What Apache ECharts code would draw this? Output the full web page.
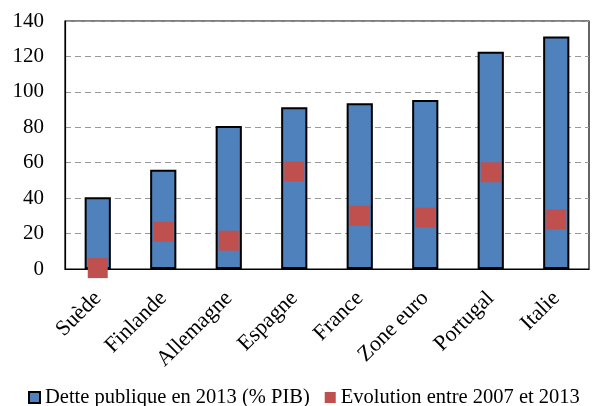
<!DOCTYPE html>
<html>
<head>
<meta charset="utf-8">
<script src="https://cdn.jsdelivr.net/npm/echarts@6/dist/echarts.min.js"></script>
<style>
  html, body { margin: 0; padding: 0; background: #fff; }
  #chart { width: 596px; height: 406px; }
</style>
</head>
<body>
<div id="chart"></div>
<script>
const countries = ['Suède', 'Finlande', 'Allemagne', 'Espagne', 'France', 'Zone euro', 'Portugal', 'Italie'];
const debt2013 = [40.5, 56, 80.7, 91.3, 93.6, 95.4, 122.7, 131.2];
const change0713 = [0.5, 21, 16, 55, 30, 29, 54.6, 28];

const font = 'Liberation Serif';
const chart = echarts.init(document.getElementById('chart'));

chart.setOption({
  animation: false,
  grid: {
    left: 65, right: 7, top: 21, bottom: 137,
    show: true, borderColor: '#000', borderWidth: 1.2
  },
  legend: {
    top: 387, left: 28, width: 570, padding: 0,
    itemWidth: 11, itemHeight: 11, itemGap: 15,
    textStyle: { fontFamily: font, fontSize: 20.5, color: '#000' },
    data: [
      { name: 'Dette publique en 2013 (% PIB)', icon: 'rect' },
      { name: 'Evolution entre 2007 et 2013', icon: 'rect' }
    ]
  },
  xAxis: {
    type: 'category',
    data: countries,
    axisLine: { lineStyle: { color: '#000', width: 1.2 } },
    axisTick: { inside: true, length: 6, lineStyle: { color: '#000' } },
    axisLabel: {
      rotate: 45, fontFamily: font, fontSize: 22, color: '#000', margin: 26
    }
  },
  yAxis: {
    type: 'value', min: 0, max: 140, interval: 20,
    axisLine: { show: true, lineStyle: { color: '#000', width: 1.2 } },
    axisTick: { show: false },
    axisLabel: { fontFamily: font, fontSize: 21, color: '#000', margin: 21 },
    splitLine: { lineStyle: { color: '#999', type: [6, 4], width: 1.2 } }
  },
  series: [
    {
      name: 'Dette publique en 2013 (% PIB)',
      type: 'bar',
      data: debt2013,
      barWidth: '40%',
      itemStyle: { color: '#4F81BD', borderColor: '#000', borderWidth: 2 }
    },
    {
      name: 'Evolution entre 2007 et 2013',
      type: 'scatter',
      data: change0713,
      symbol: 'rect',
      symbolSize: 20,
      clip: false,
      z: 5,
      itemStyle: { color: '#C0504D', opacity: 1 }
    }
  ]
});
</script>
</body>
</html>
